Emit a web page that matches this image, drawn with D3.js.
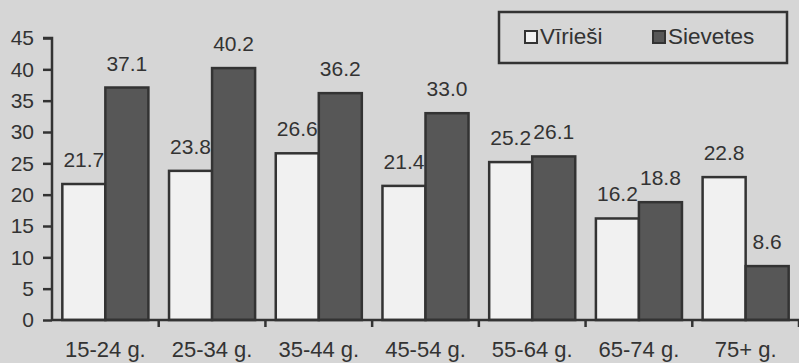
<!DOCTYPE html>
<html>
<head>
<meta charset="utf-8">
<script src="https://cdn.jsdelivr.net/npm/d3@7"></script>
<style>
  html, body { margin: 0; padding: 0; background: #d6d6d6; }
  svg { display: block; }
  text { font-family: "Liberation Sans", Arial, sans-serif; fill: #333; }
</style>
</head>
<body>
<div id="chart"></div>
<script>
// dati
const ageGroups = ["15-24 g.", "25-34 g.", "35-44 g.", "45-54 g.", "55-64 g.", "65-74 g.", "75+ g."];
const seriesNames = ["Vīrieši", "Sievietes"];
const legendLabels = ["Vīrieši", "Sievetes"];
const men = [21.7, 23.8, 26.6, 21.4, 25.2, 16.2, 22.8];
const women = [37.1, 40.2, 36.2, 33.0, 26.1, 18.8, 8.6];
const yTicks = [0, 5, 10, 15, 20, 25, 30, 35, 40, 45];

const width = 799, height = 363;
const margin = { top: 38, right: 0, bottom: 43, left: 52 };
const ink = '#333';
const fills = ['#f1f1f1', '#575757'];

const rows = ageGroups.map((g, i) => ({ group: g, values: [men[i], women[i]] }));

const svg = d3.select('#chart').append('svg')
    .attr('width', width)
    .attr('height', height);

svg.append('rect')
    .attr('width', width).attr('height', height)
    .attr('fill', '#d6d6d6');

const x0 = d3.scaleBand()
    .domain(ageGroups)
    .range([margin.left, width - margin.right]);

const x1 = d3.scaleBand()
    .domain(seriesNames)
    .range([0, x0.bandwidth()])
    .paddingInner(0)
    .paddingOuter(0.24);

const y = d3.scaleLinear()
    .domain([0, 45])
    .range([height - margin.bottom, margin.top]);

// stabiņi
const groups = svg.append('g').selectAll('g')
    .data(rows)
    .join('g')
    .attr('transform', d => `translate(${x0(d.group)},0)`);

groups.selectAll('rect')
    .data(d => d.values.map((v, i) => ({ key: seriesNames[i], v, i })))
    .join('rect')
    .attr('x', d => x1(d.key))
    .attr('y', d => y(d.v))
    .attr('width', x1.bandwidth())
    .attr('height', d => y(0) - y(d.v))
    .attr('fill', d => fills[d.i])
    .attr('stroke', ink)
    .attr('stroke-width', 2.5);

groups.selectAll('text.val')
    .data(d => d.values.map((v, i) => ({ key: seriesNames[i], v, i })))
    .join('text')
    .attr('class', 'val')
    .attr('x', d => x1(d.key) + x1.bandwidth() / 2)
    .attr('y', d => y(d.v) - 17)
    .attr('text-anchor', 'middle')
    .style('font-size', '21px')
    .text(d => d.v.toFixed(1));

// asis
const yAxis = svg.append('g')
    .attr('transform', `translate(${margin.left},0)`)
    .call(d3.axisLeft(y).tickValues(yTicks).tickSize(9).tickPadding(9));

const xAxis = svg.append('g')
    .attr('transform', `translate(0,${y(0)})`)
    .call(d3.axisBottom(x0).tickSize(0).tickPadding(21));

// x ass atdalītāji starp grupām
xAxis.selectAll('line.sep')
    .data(ageGroups)
    .join('line')
    .attr('class', 'sep')
    .attr('x1', d => x0(d) + x0.bandwidth())
    .attr('x2', d => x0(d) + x0.bandwidth())
    .attr('y1', 0).attr('y2', 7)
    .attr('stroke', ink).attr('stroke-width', 2.5);

[yAxis, xAxis].forEach(a => {
    a.select('.domain').attr('stroke', ink).attr('stroke-width', 2.5);
    a.selectAll('.tick line').attr('stroke', ink).attr('stroke-width', 2.5);
    a.selectAll('.tick text')
        .style('font-family', '"Liberation Sans", Arial, sans-serif')
        .attr('fill', ink);
});
yAxis.selectAll('.tick text').style('font-size', '21px');
xAxis.selectAll('.tick text').style('font-size', '22px');
yAxis.select('.domain').attr('d', `M-9,${y(45)}H0V${y(0)}`);
xAxis.select('.domain').attr('d', `M${margin.left},0H${width}`);

// leģenda
const legend = svg.append('g');
legend.append('rect')
    .attr('x', 499).attr('y', 12)
    .attr('width', 288).attr('height', 51)
    .attr('fill', 'none')
    .attr('stroke', ink).attr('stroke-width', 2.5);

const legendX = [525, 653];
legendLabels.forEach((lab, i) => {
    legend.append('rect')
        .attr('x', legendX[i]).attr('y', 31)
        .attr('width', 12).attr('height', 12)
        .attr('fill', fills[i])
        .attr('stroke', ink).attr('stroke-width', 2);
    legend.append('text')
        .attr('x', legendX[i] + 15).attr('y', 44)
        .style('font-size', '22.5px')
        .text(lab);
});
</script>
</body>
</html>
